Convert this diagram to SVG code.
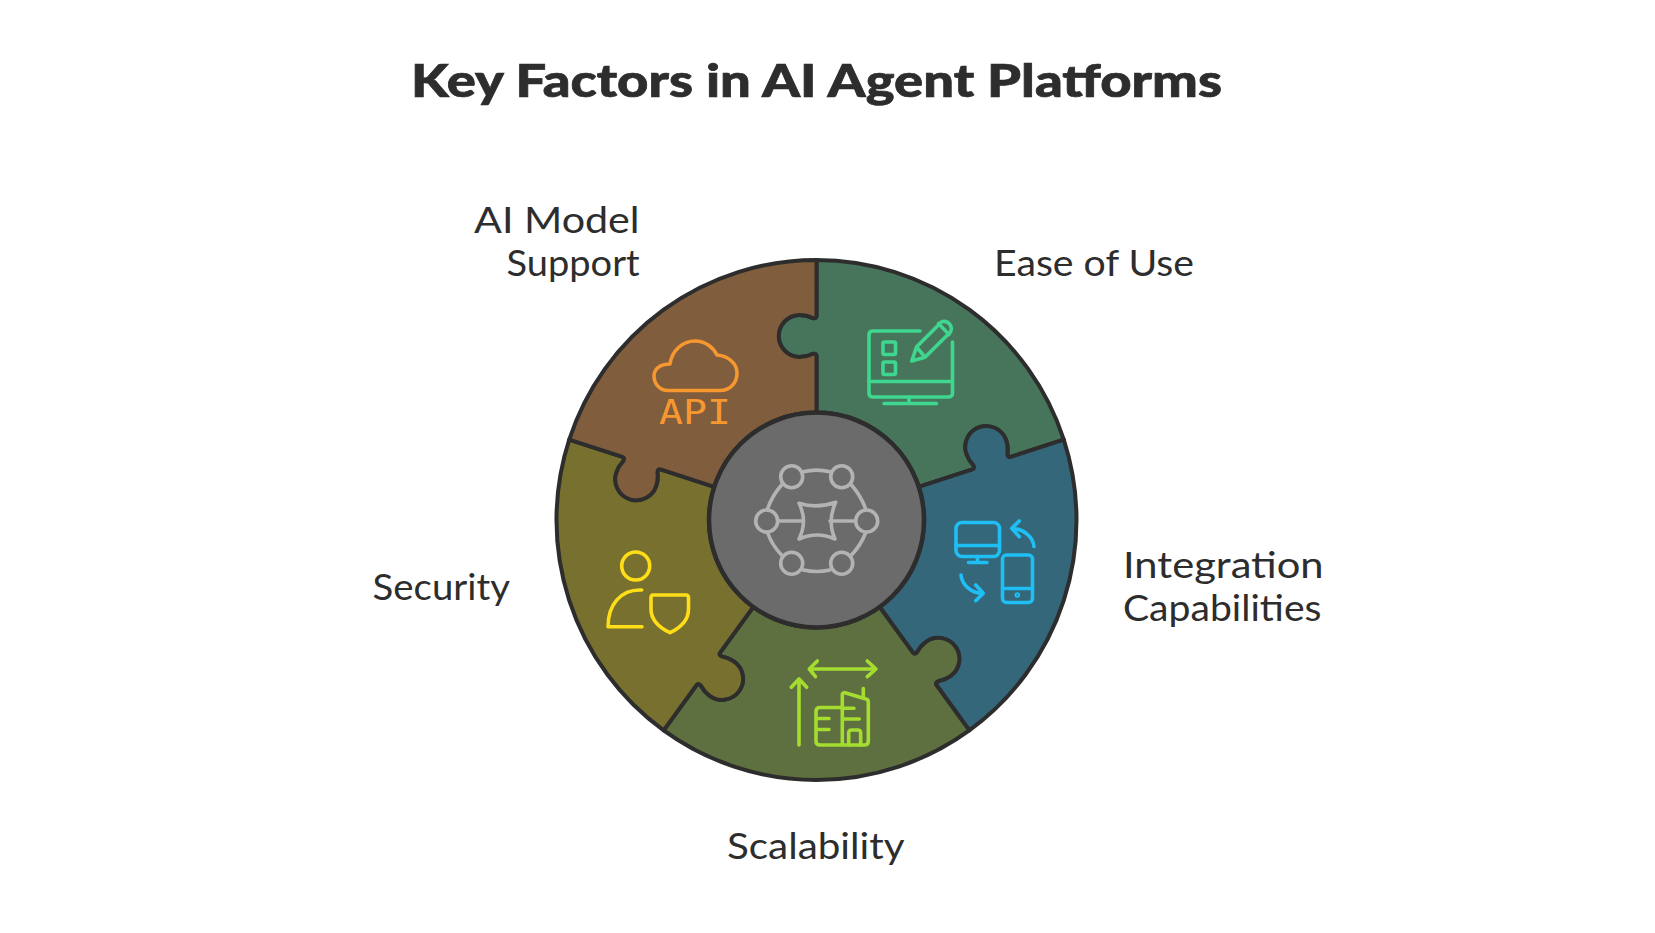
<svg xmlns="http://www.w3.org/2000/svg" xmlns:xlink="http://www.w3.org/1999/xlink" width="1655" height="933" viewBox="0 0 1655 933">
  <style>
    text { font-family: "Lato", "Open Sans", sans-serif; fill: #2d2d2d; }
    .title { font-size: 46px; font-weight: 900; stroke: #2d2d2d; stroke-width: .7; }
    .label { font-size: 36px; }
    .piece { stroke: #2d2d2d; stroke-width: 4; stroke-linejoin: round; }
    .hub { fill: #6b6b6b; stroke: #2d2d2d; stroke-width: 4.5; }
    .icon { fill: none; stroke-width: 3.6; stroke-linecap: round; stroke-linejoin: round; }
    .api-text { font-family: "DejaVu Sans Mono", monospace; font-size: 34px; fill: #f7972f; }
  </style>
  <defs>
    <!-- One puzzle segment around the origin: tab on its leading edge, matching socket on its trailing edge -->
    <path id="piece" d="M0,-260 A260,260 0 0 1 247.3,-80.3 L194.02,-63.04 Q191.16,-62.11 190.88,-66.23 C191.55,-70.65 191.26,-74.76 189.71,-79.52 A21,21 0 0 0 149.77,-66.54 C151.31,-61.78 153.5,-58.29 156.64,-55.1 Q158.83,-51.61 155.97,-50.68 L102.2,-33.2 A107.5,107.5 0 0 0 0,-107.5 L0,-164 Q0,-167 -4,-166 C-8,-164 -12,-163 -17,-163 A21,21 0 0 1 -17,-205 C-12,-205 -8,-204 -4,-202 Q0,-201 0,-204 Z"/>
  </defs>
  <rect width="1655" height="933" fill="#ffffff"/>

  <text id="title" class="title" x="816.5" y="97" text-anchor="middle" textLength="811" lengthAdjust="spacingAndGlyphs">Key Factors in AI Agent Platforms</text>

  <g id="node-ease-of-use">
    <use href="#piece" class="piece" fill="#47755b" transform="translate(816.5 520)"/>
    <g class="icon" stroke="#3fd68f">
      <path d="M920,331 H873 Q869,331 869,335 V393 Q869,397 873,397 H948 Q952.5,397 952.5,393 V342"/>
      <path d="M869,381.5 H952.5 M909,397 V403.5 M884,403.5 H936.5"/>
      <rect x="883" y="342" width="12.5" height="12.5" rx="1.5"/>
      <rect x="883" y="362" width="12.5" height="12.5" rx="1.5"/>
      <path d="M911.7,361 L916.7,346.7 L941.7,321.7 A7.4,7.4 0 0 1 950.5,332 L925,357.3 Z M938.5,323.5 L949,334.5 M916.5,347 L925,357"/>
    </g>
    <text class="label" x="994" y="275.5" textLength="200" lengthAdjust="spacingAndGlyphs">Ease of Use</text>
  </g>

  <g id="node-integration">
    <use href="#piece" class="piece" fill="#346779" transform="translate(816.5 520) rotate(72)"/>
    <g class="icon" stroke="#1fbff5">
      <rect x="956" y="522.5" width="43.5" height="34" rx="6"/>
      <path d="M956,545.5 H999.5 M977.5,556.5 V562.5 M968.5,562.5 H987"/>
      <rect x="1002.5" y="555" width="30" height="47.5" rx="4"/>
      <path d="M1002.5,588.5 H1032.5"/>
      <circle cx="1017.3" cy="595" r="1"/>
      <path d="M1034,546.5 C1033,537 1024,529 1012,528.5 M1019.3,521 L1011.7,528.3 L1019.3,536.7"/>
      <path d="M961,575 C962,585 971,593 983,593.5 M975.7,585 L983.3,593.3 L975.7,600.7"/>
    </g>
    <text class="label" x="1123" y="578" textLength="200.6" lengthAdjust="spacingAndGlyphs">Integration</text>
    <text class="label" x="1123" y="620.7" textLength="198.5" lengthAdjust="spacingAndGlyphs">Capabilities</text>
  </g>

  <g id="node-scalability">
    <use href="#piece" class="piece" fill="#5f7040" transform="translate(816.5 520) rotate(144)"/>
    <g class="icon" stroke="#a4dc2f">
      <path d="M809.5,669 H876 M817.3,661 L809.3,669 L815.5,676.7 M867.3,661 L876,669 L867.3,676.7"/>
      <path d="M799,745 V679 M791.3,687.3 L799,679 L806.7,687.3"/>
      <path d="M842.3,707.5 H820 Q816,707.5 816,711.5 V741 Q816,745 820,745 H864.5 Q868.3,745 868.3,741 V702 Q868.3,699.5 866,699 L845,692.8 Q842.3,692.3 842.3,695 V745"/>
      <path d="M863.3,688.5 V698 M816.5,718.5 H829 M816.5,729.5 H829 M843,708.3 H854 M843,719 H859.3"/>
      <path d="M848.7,745 V733 Q848.7,730 851.7,730 H857.7 Q860.7,730 860.7,733 V745"/>
    </g>
    <text class="label" x="727" y="859" textLength="177.6" lengthAdjust="spacingAndGlyphs">Scalability</text>
  </g>

  <g id="node-security">
    <use href="#piece" class="piece" fill="#78702f" transform="translate(816.5 520) rotate(216)"/>
    <g class="icon" stroke="#ffde17">
      <circle cx="635.7" cy="566" r="14"/>
      <path d="M641.7,590 H640 C621,590 608,604 608,626.7 H642"/>
      <path d="M653,595 H686 Q688.5,595 688.5,598 V609 C688.5,620 680,628 670,632.7 C660,628 651,620 651,609 V598 Q651,595 653,595 Z"/>
    </g>
    <text class="label" x="372.6" y="599.5" textLength="137.4" lengthAdjust="spacingAndGlyphs">Security</text>
  </g>

  <g id="node-ai-model-support">
    <use href="#piece" class="piece" fill="#7f5d3d" transform="translate(816.5 520) rotate(288)"/>
    <g class="icon" stroke="#f7972f">
      <path d="M668,390.5 C659,390.5 654,383 654,376 C654,369 660,364 670,364 C672,350 683,341 695,341 C705,341 713,347 717,355 C729,356 737,364 737,373 C737,383 730,390.5 720,390.5 Z"/>
    </g>
    <text class="api-text" x="659" y="424" textLength="72" lengthAdjust="spacingAndGlyphs">API</text>
    <text class="label" x="474" y="233" textLength="165.6" lengthAdjust="spacingAndGlyphs">AI Model</text>
    <text class="label" x="506.6" y="275.5" textLength="133" lengthAdjust="spacingAndGlyphs">Support</text>
  </g>

  <g id="node-hub">
    <circle class="hub" cx="816.5" cy="520" r="107.5"/>
    <g class="icon" stroke="#b3b3b3">
      <circle cx="791.7" cy="476.7" r="11"/>
      <circle cx="841.7" cy="476.7" r="11"/>
      <circle cx="766.7" cy="521" r="11"/>
      <circle cx="866.7" cy="521" r="11"/>
      <circle cx="791.7" cy="563.3" r="11"/>
      <circle cx="841.7" cy="563.3" r="11"/>
      <path d="M803.3,471.7 Q816.7,468.5 830,471.7 M803.3,570 Q816.7,573 830,570"/>
      <path d="M781.5,485 Q772,496 767.7,508.5 M851.5,485 Q861,496 865.5,508.5"/>
      <path d="M767.7,533 Q772,545 781.5,555 M865.5,533 Q861,545 851.5,555"/>
      <path d="M779,521 H803 M830,521 H854.3"/>
      <path d="M799,503.3 Q817,509 835.7,502.3 Q827,521 835,539 Q817,531 799,539 Q808,521 799,503.3 Z"/>
    </g>
  </g>
</svg>
